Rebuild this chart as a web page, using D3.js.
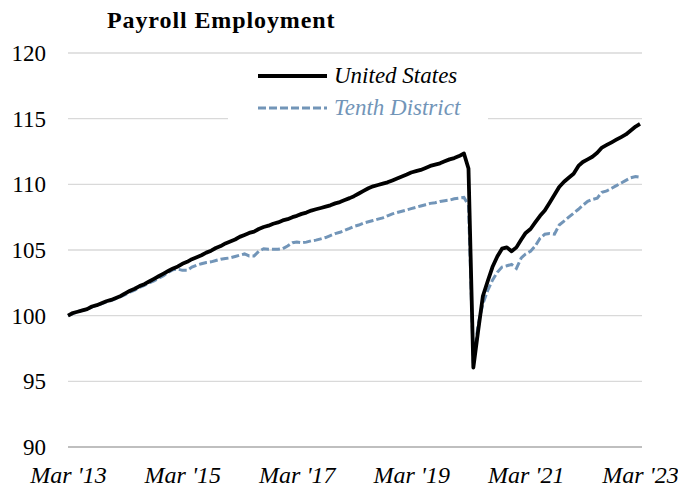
<!DOCTYPE html>
<html>
<head>
<meta charset="utf-8">
<script src="https://cdn.jsdelivr.net/npm/d3@7"></script>
<style>
  body { margin: 0; background: #fff; }
  text { font-family: "Liberation Serif", "DejaVu Serif", serif; }
</style>
</head>
<body>
<div id="chart"></div>
<script>
// Index, Mar 2013 = 100, monthly through Mar 2023
const unitedStates = [
  100.0, 100.2, 100.3, 100.4, 100.5, 100.7, 100.8, 100.95, 101.1, 101.2,
  101.35, 101.5, 101.7, 101.9, 102.05, 102.25, 102.4, 102.6, 102.8, 103.0,
  103.2, 103.4, 103.6, 103.75, 103.95, 104.1, 104.3, 104.45, 104.6, 104.8,
  104.95, 105.15, 105.3, 105.5, 105.65, 105.8, 106.0, 106.15, 106.3, 106.4,
  106.6, 106.75, 106.85, 107.0, 107.1, 107.25, 107.35, 107.5, 107.6, 107.75,
  107.85, 108.0, 108.1, 108.2, 108.3, 108.4, 108.55, 108.65, 108.8, 108.95,
  109.1, 109.3, 109.5, 109.7, 109.85, 109.95, 110.05, 110.15, 110.3, 110.45,
  110.6, 110.75, 110.9, 111.0, 111.1, 111.25, 111.4, 111.5, 111.6, 111.75,
  111.9, 112.0, 112.15, 112.35, 111.2, 96.05, 98.8, 101.5, 102.6, 103.7,
  104.5, 105.1, 105.2, 104.9, 105.2, 105.8, 106.3, 106.6, 107.1, 107.6,
  108.0, 108.6, 109.2, 109.8, 110.2, 110.5, 110.8, 111.4, 111.7, 111.9,
  112.1, 112.4, 112.8, 113.0, 113.2, 113.4, 113.6, 113.8, 114.1, 114.4,
  114.6
];

const tenthDistrict = [
  100.0, 100.15, 100.3, 100.4, 100.5, 100.65, 100.8, 100.9, 101.05, 101.15,
  101.3, 101.45, 101.6, 101.8, 101.95, 102.15, 102.3, 102.5, 102.65, 102.85,
  103.05, 103.3, 103.5, 103.55, 103.45, 103.45, 103.7, 103.85, 103.95, 104.05,
  104.1, 104.2, 104.3, 104.35, 104.4, 104.5, 104.6, 104.7, 104.55, 104.55,
  104.9, 105.1, 105.05, 105.05, 105.05, 105.1, 105.3, 105.55, 105.6, 105.55,
  105.6, 105.7, 105.75, 105.85, 105.95, 106.1, 106.25, 106.35, 106.5, 106.65,
  106.8, 106.9, 107.05, 107.15, 107.25, 107.35, 107.45, 107.6, 107.75, 107.85,
  107.95, 108.05, 108.15, 108.25, 108.35, 108.45, 108.55, 108.6, 108.7, 108.75,
  108.8, 108.9, 108.95, 109.0, 108.4, 96.4, 99.3, 100.9, 101.9, 102.7,
  103.3, 103.7, 103.8, 103.9, 103.6, 104.4, 104.7, 104.9, 105.3, 105.9,
  106.2, 106.25, 106.2, 106.9, 107.2, 107.5, 107.8, 108.1, 108.4, 108.7,
  108.85, 108.95, 109.4, 109.5, 109.7, 109.9, 110.1, 110.3, 110.5, 110.6,
  110.55
];

const months = d3.timeMonth.range(new Date(2013, 2, 1), new Date(2023, 3, 1));
const yTicks = [90, 95, 100, 105, 110, 115, 120];
const xTicks = ["Mar '13", "Mar '15", "Mar '17", "Mar '19", "Mar '21", "Mar '23"];
const xTickDates = [2013, 2015, 2017, 2019, 2021, 2023].map(y => new Date(y, 2, 1));

const width = 678;
const height = 492;
const margin = { top: 53, right: 38, bottom: 45, left: 68 };

const svg = d3.select('#chart')
    .append('svg')
    .attr('width', width)
    .attr('height', height);

const x = d3.scaleTime()
    .domain([months[0], months[months.length - 1]])
    .range([margin.left, width - margin.right]);

const y = d3.scaleLinear()
    .domain([90, 120])
    .range([height - margin.bottom, margin.top]);

// Gridlines
svg.append('g')
    .selectAll('line')
    .data(yTicks)
    .join('line')
    .attr('x1', margin.left)
    .attr('x2', width - margin.right + 2)
    .attr('y1', d => y(d))
    .attr('y2', d => y(d))
    .attr('stroke', d => d === 90 ? '#bfbfbf' : '#d9d9d9')
    .attr('stroke-width', d => d === 90 ? 2 : 1.3);

// Y axis labels
svg.append('g')
    .call(d3.axisLeft(y).tickValues(yTicks).tickSize(0).tickPadding(0))
    .attr('transform', `translate(${margin.left - 22},0)`)
    .call(g => g.select('.domain').remove())
    .selectAll('text')
    .attr('fill', '#000')
    .style('font-size', '23px')
    .style('font-family', '"Liberation Serif", serif');

// X axis labels
svg.append('g')
    .attr('transform', `translate(0,${height - margin.bottom})`)
    .call(d3.axisBottom(x).tickValues(xTickDates).tickSize(0).tickPadding(0)
        .tickFormat((d, i) => xTicks[i]))
    .call(g => g.select('.domain').remove())
    .selectAll('text')
    .attr('dy', null)
    .attr('y', 36)
    .attr('fill', '#000')
    .style('font-size', '24px')
    .style('font-style', 'italic')
    .style('font-family', '"Liberation Serif", serif');

const line = d3.line()
    .x((d, i) => x(months[i]))
    .y(d => y(d));

svg.append('path')
    .datum(tenthDistrict)
    .attr('d', line)
    .attr('fill', 'none')
    .attr('stroke', '#7295b8')
    .attr('stroke-width', 3)
    .attr('stroke-dasharray', '8,3');

svg.append('path')
    .datum(unitedStates)
    .attr('d', line)
    .attr('fill', 'none')
    .attr('stroke', '#000')
    .attr('stroke-width', 3.8)
    .attr('stroke-linejoin', 'round');

// Legend
svg.append('rect')
    .attr('x', 228)
    .attr('y', 58)
    .attr('width', 260)
    .attr('height', 66)
    .attr('fill', '#fff');

const legend = [
    { name: 'United States', color: '#000', dash: null, w: 3.8 },
    { name: 'Tenth District', color: '#7295b8', dash: '8,3', w: 3 }
];

legend.forEach((d, i) => {
    const ly = 76 + i * 32;
    svg.append('line')
        .attr('x1', 258).attr('x2', 327)
        .attr('y1', ly).attr('y2', ly)
        .attr('stroke', d.color)
        .attr('stroke-width', d.w)
        .attr('stroke-dasharray', d.dash);
    svg.append('text')
        .attr('x', 334)
        .attr('y', ly + 7)
        .attr('fill', d.color)
        .style('font-size', '23px')
        .style('font-style', 'italic')
        .text(d.name);
});

// Title
svg.append('text')
    .attr('x', 107)
    .attr('y', 28)
    .style('font-size', '24px')
    .style('font-weight', 'bold')
    .style('letter-spacing', '0.9px')
    .text('Payroll Employment');
</script>
</body>
</html>
